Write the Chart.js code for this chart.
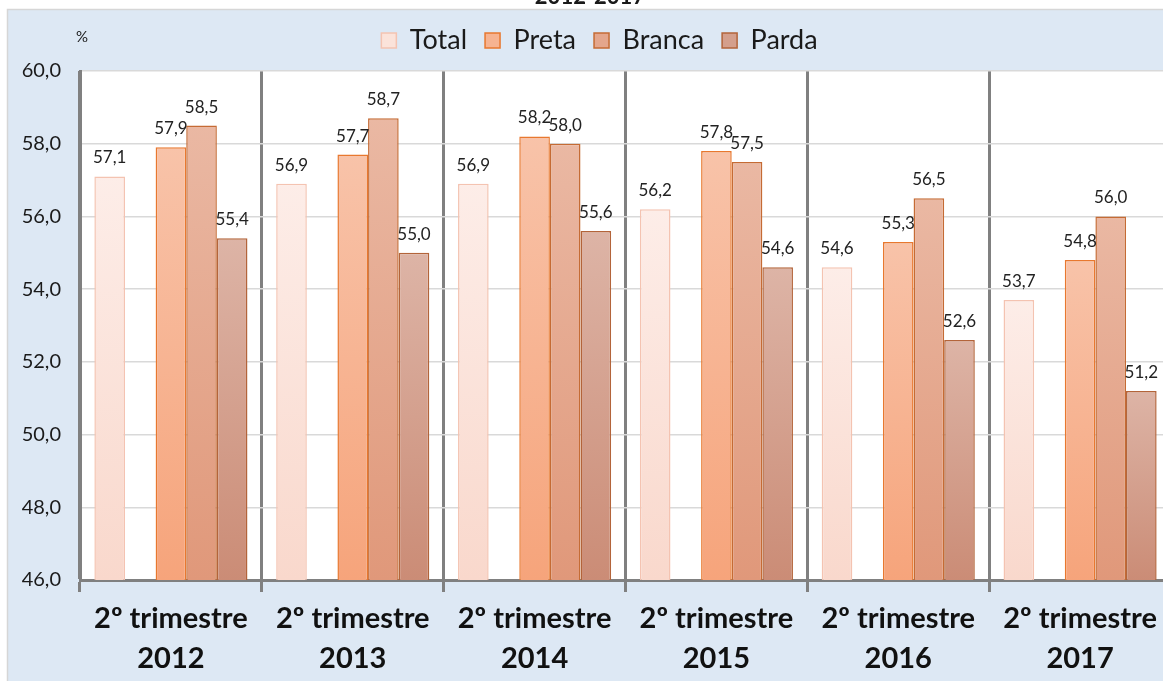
<!DOCTYPE html>
<html>
<head>
<meta charset="utf-8">
<script src="https://cdn.jsdelivr.net/npm/chart.js@4.4.1/dist/chart.umd.min.js"></script>
<style>
  html, body { margin: 0; padding: 0; background: #ffffff; overflow: hidden; }
  #wrap { position: absolute; left: 0; top: 0; width: 1175px; height: 681px; }
</style>
</head>
<body>
<div id="wrap"><canvas id="c" width="1175" height="681"></canvas></div>
<script>
// ---- data ----
const categories = [
  ['2º trimestre', '2012'],
  ['2º trimestre', '2013'],
  ['2º trimestre', '2014'],
  ['2º trimestre', '2015'],
  ['2º trimestre', '2016'],
  ['2º trimestre', '2017']
];
const seriesNames = ['Total', 'Preta', 'Branca', 'Parda'];
const totalValues  = [57.1, 56.9, 56.9, 56.2, 54.6, 53.7];
const pretaValues  = [57.9, 57.7, 58.2, 57.8, 55.3, 54.8];
const brancaValues = [58.5, 58.7, 58.0, 57.5, 56.5, 56.0];
const pardaValues  = [55.4, 55.0, 55.6, 54.6, 52.6, 51.2];
const yTicks = [46, 48, 50, 52, 54, 56, 58, 60];
const titleText = '2012-2017';
const unitText = '%';

// ---- styles ----
const FONT = 'Lato';
const styles = {
  Total:  { top: '#fdede8', bottom: '#f9d8cc', border: '#f4c3b1', legend: '#fbe3da' },
  Preta:  { top: '#f8c3a9', bottom: '#f6a47b', border: '#e8782f', legend: '#f6b391' },
  Branca: { top: '#eab8a3', bottom: '#e0987a', border: '#c56b34', legend: '#e4a68c' },
  Parda:  { top: '#ddb4a6', bottom: '#cb8c76', border: '#b3643a', legend: '#d49f8c' }
};

function gradientFor(name) {
  const s = styles[name];
  return function(ctx) {
    const chart = ctx.chart;
    const area = chart.chartArea;
    if (!area || ctx.raw == null) return s.top;
    const yTop = chart.scales.y.getPixelForValue(ctx.raw);
    const g = chart.ctx.createLinearGradient(0, yTop, 0, area.bottom);
    g.addColorStop(0, s.top);
    g.addColorStop(1, s.bottom);
    return g;
  };
}

function makeDataset(name, values) {
  return {
    label: name,
    data: values,
    backgroundColor: gradientFor(name),
    borderColor: styles[name].border,
    borderWidth: 1.5,
    categoryPercentage: 0.842,
    barPercentage: 1.0
  };
}

const spacer = {
  label: '__gap',
  data: categories.map(() => null),
  backgroundColor: 'rgba(0,0,0,0)',
  borderWidth: 0,
  categoryPercentage: 0.842,
  barPercentage: 1.0
};

const fmt = v => v.toFixed(1).replace('.', ',');

// panel / background / extra texts
const panelPlugin = {
  id: 'panel',
  afterLayout(chart) {
    const lg = chart.legend;
    if (lg) {
      const dx = 14, dy = -7;
      lg.left += dx; lg.right += dx;
      lg.top += dy; lg.bottom += dy;
    }
  },
  beforeDraw(chart) {
    const c = chart.ctx, a = chart.chartArea;
    c.save();
    c.fillStyle = '#ffffff';
    c.fillRect(0, 0, chart.width, chart.height);
    c.fillStyle = '#dde8f4';
    c.fillRect(7, 9, chart.width, chart.height);
    c.strokeStyle = '#d6d6d6';
    c.lineWidth = 1.5;
    c.beginPath();
    c.moveTo(7.5, chart.height + 5);
    c.lineTo(7.5, 9.5);
    c.lineTo(chart.width + 5, 9.5);
    c.stroke();
    c.fillStyle = '#ffffff';
    c.fillRect(a.left, a.top, a.right - a.left, a.bottom - a.top);
    // title (cut at top)
    c.fillStyle = '#1a1a1a';
    c.font = 'bold 22px ' + FONT;
    c.textAlign = 'center';
    c.textBaseline = 'alphabetic';
    c.fillText(titleText, 590, 4);
    // unit
    c.font = '15px ' + FONT;
    c.textBaseline = 'middle';
    c.fillText(unitText, 82, 37);
    c.restore();
  }
};

const valueLabels = {
  id: 'valueLabels',
  afterDatasetsDraw(chart) {
    const c = chart.ctx;
    c.save();
    c.font = '17px ' + FONT;
    c.fillStyle = '#222222';
    c.textAlign = 'center';
    c.textBaseline = 'alphabetic';
    chart.data.datasets.forEach((ds, i) => {
      if (ds.label === '__gap') return;
      const meta = chart.getDatasetMeta(i);
      meta.data.forEach((el, j) => {
        const v = ds.data[j];
        if (v == null) return;
        c.fillText(fmt(v), el.x, el.y - 13);
      });
    });
    c.restore();
  }
};

new Chart(document.getElementById('c'), {
  type: 'bar',
  data: {
    labels: categories,
    datasets: [
      makeDataset('Total', totalValues),
      spacer,
      makeDataset('Preta', pretaValues),
      makeDataset('Branca', brancaValues),
      makeDataset('Parda', pardaValues)
    ]
  },
  options: {
    responsive: false,
    animation: false,
    events: [],
    layout: { padding: { left: 0, right: 4, top: 16, bottom: 0 } },
    plugins: {
      title: { display: false },
      tooltip: { enabled: false },
      legend: {
        display: true,
        position: 'top',
        labels: {
          font: { family: FONT, size: 27 },
          color: '#1a1a1a',
          boxWidth: 15,
          boxHeight: 15,
          padding: 18,
          generateLabels(chart) {
            return seriesNames.map(n => ({
              text: n,
              fillStyle: styles[n].legend,
              strokeStyle: styles[n].border,
              lineWidth: 1.5,
              hidden: false,
              fontColor: '#1a1a1a'
            }));
          }
        }
      }
    },
    scales: {
      x: {
        offset: true,
        grid: {
          offset: true,
          color: '#808080',
          lineWidth: 3,
          tickLength: 12,
          drawOnChartArea: true,
          drawTicks: true
        },
        border: { display: true, color: '#808080', width: 3 },
        ticks: {
          autoSkip: false,
          maxRotation: 0,
          minRotation: 0,
          padding: 7,
          color: '#111111',
          font: { family: FONT, size: 29, weight: 'bold', lineHeight: 1.38 }
        },
        afterFit(scale) { scale.height = 101; }
      },
      y: {
        min: 46,
        max: 60,
        afterBuildTicks(scale) { scale.ticks = yTicks.map(v => ({ value: v })); },
        grid: { color: '#d9d9d9', lineWidth: 1.5, drawTicks: false },
        border: { display: true, color: '#808080', width: 3 },
        ticks: {
          padding: 19,
          color: '#1a1a1a',
          font: { family: FONT, size: 20 },
          callback: v => fmt(v)
        },
        afterFit(scale) { scale.width = 80; }
      }
    }
  },
  plugins: [panelPlugin, valueLabels]
});
</script>
</body>
</html>
